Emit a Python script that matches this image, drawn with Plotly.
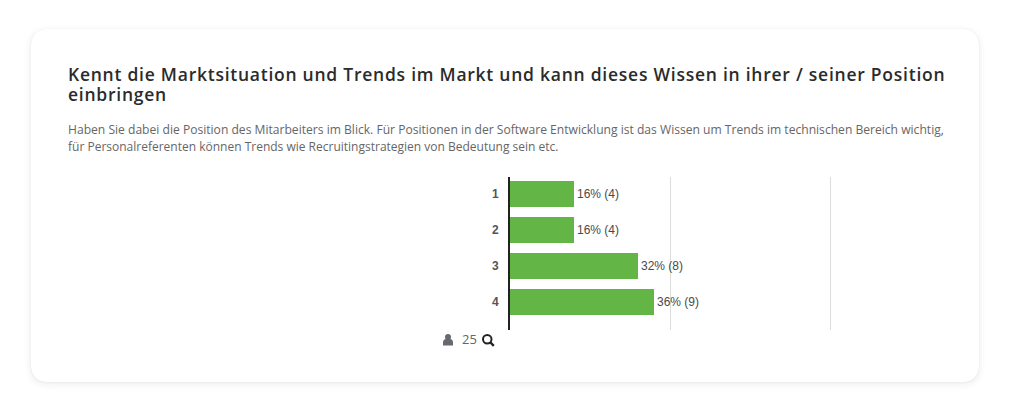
import plotly.graph_objects as go

categories = ["1", "2", "3", "4"]
percent = [16, 16, 32, 36]
counts = [4, 4, 8, 9]
respondents = 25
title_lines = ["Kennt die Marktsituation und Trends im Markt und kann dieses Wissen in ihrer / seiner Position", "einbringen"]
body_lines = ["Haben Sie dabei die Position des Mitarbeiters im Blick. Für Positionen in der Software Entwicklung ist das Wissen um Trends im technischen Bereich wichtig,",
              "für Personalreferenten können Trends wie Recruitingstrategien von Bedeutung sein etc."]

W, H = 1010, 411
L, R, T, B = 510, 834, 177, 330

def px(x): return (x - L) / (R - L)
def py(y): return (B - y) / (B - T)

def round_rect(x0, y0, x1, y1, r):
    a, b, c, d = px(x0), px(x1), py(y0), py(y1)
    ax, ay = px(x0 + r), py(y0 + r)
    bx, by = px(x1 - r), py(y1 - r)
    return (f"M{ax},{c} L{bx},{c} Q{b},{c} {b},{ay} L{b},{by} Q{b},{d} {bx},{d} "
            f"L{ax},{d} Q{a},{d} {a},{by} L{a},{ay} Q{a},{c} {ax},{c} Z")

shapes = []
for grow, alpha, dy in [(7, 0.005, 2), (5, 0.007, 2), (3, 0.01, 2), (1.5, 0.015, 1), (0.6, 0.025, 1)]:
    shapes.append(dict(type="path", xref="paper", yref="paper", layer="below", line_width=0,
                       fillcolor=f"rgba(0,0,0,{alpha})",
                       path=round_rect(31 - grow, 29 - grow + dy, 979 + grow, 382 + grow + dy, 18 + grow)))
shapes.append(dict(type="path", xref="paper", yref="paper", layer="below", line_width=0,
                   fillcolor="#ffffff", path=round_rect(31, 29, 979, 382, 18)))
# person icon
shapes.append(dict(type="circle", xref="paper", yref="paper", line_width=0, fillcolor="#666a6e",
                   x0=px(445), x1=px(451), y0=py(340), y1=py(334)))
shapes.append(dict(type="path", xref="paper", yref="paper", line_width=0, fillcolor="#666a6e",
                   path=f"M{px(443)},{py(345.5)} L{px(443)},{py(342)} Q{px(443.5)},{py(339)} {px(446)},{py(339)} "
                        f"L{px(450)},{py(339)} Q{px(452.5)},{py(339)} {px(453)},{py(342)} L{px(453)},{py(345.5)} Z"))
# magnifier icon
shapes.append(dict(type="circle", xref="paper", yref="paper", line=dict(color="#222222", width=2),
                   fillcolor="rgba(0,0,0,0)", x0=px(483), x1=px(491.5), y0=py(343.5), y1=py(335)))
shapes.append(dict(type="line", xref="paper", yref="paper", line=dict(color="#222222", width=2.4),
                   x0=px(490), x1=px(493.8), y0=py(342), y1=py(345.8)))

ann = []
for text, y in zip(title_lines, [74.5, 94.5]):
    ann.append(dict(text=text, x=px(66), y=py(y), xref="paper", yref="paper", xanchor="left", yanchor="middle",
                    showarrow=False, font=dict(family="Open Sans", size=17.5, color="#2b2b2b", weight=600)))
for text, y, size in zip(body_lines, [129, 146], [12.1, 12]):
    ann.append(dict(text=text, x=px(66), y=py(y), xref="paper", yref="paper", xanchor="left", yanchor="middle",
                    showarrow=False, font=dict(family="Open Sans", size=size, color="#666666")))
ann.append(dict(text=str(respondents), x=px(460), y=py(339), xref="paper", yref="paper", xanchor="left", yanchor="middle",
                showarrow=False, font=dict(family="Open Sans", size=13, color="#666666")))

fig = go.Figure(go.Bar(
    y=categories, x=percent, orientation="h", width=0.72,
    marker=dict(color="#63b545", line=dict(width=0)),
    text=[f"{p}% ({c})" for p, c in zip(percent, counts)],
    textposition="outside", cliponaxis=False,
    textfont=dict(family="Liberation Sans", size=12, color="#4a4a4a"),
    hoverinfo="skip",
))
fig.update_layout(
    width=W, height=H, margin=dict(l=L, r=W - R, t=T, b=H - B, pad=0),
    paper_bgcolor="#ffffff", plot_bgcolor="rgba(0,0,0,0)", showlegend=False,
    shapes=shapes, annotations=ann,
    xaxis=dict(range=[0, 81.0], dtick=40, showticklabels=False, showgrid=True, gridcolor="#dddddd",
               gridwidth=1, zeroline=False, showline=False, ticks=""),
    yaxis=dict(type="category", range=[3.78, -0.47], showline=True, linecolor="#222222", linewidth=2,
               showgrid=False, zeroline=False, ticks="", ticklabelstandoff=7,
               tickfont=dict(family="Liberation Sans", size=12, color="#555555", weight=700)),
)
fig.write_html("out.html", config=dict(displayModeBar=False),
               post_script="""document.body.style.margin='0';
document.querySelectorAll('.annotation-text').forEach(function(t){
  if (t.textContent.startsWith('Kennt') || t.textContent.startsWith('einbringen')) {
    var before = t.getBBox().x;
    t.style.letterSpacing='0.75px';
    var after = t.getBBox().x;
    t.setAttribute('x', parseFloat(t.getAttribute('x')) + before - after);
  }
});""")
